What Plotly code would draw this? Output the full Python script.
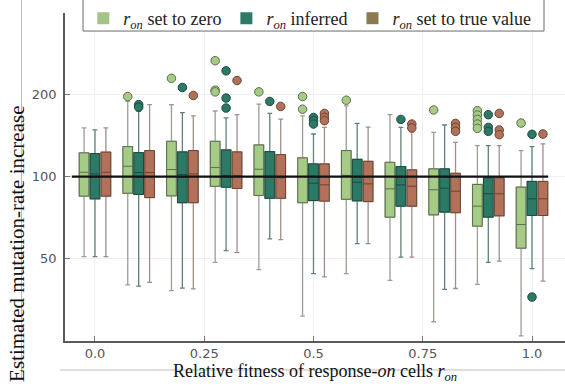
import plotly.graph_objects as go

# ---------------- data ----------------
fitness = [0.0, 0.1, 0.2, 0.3, 0.4, 0.5, 0.6, 0.7, 0.8, 0.9, 1.0]
x_tick_vals = [0.0, 0.25, 0.5, 0.75, 1.0]
x_tick_text = ["0.0", "0.25", "0.5", "0.75", "1.0"]
y_tick_vals = [50, 100, 200]
y_tick_text = ["50", "100", "200"]
reference_value = 100

series_names = [
    "<i>r</i><sub><i>on</i></sub> set to zero",
    "<i>r</i><sub><i>on</i></sub> inferred",
    "<i>r</i><sub><i>on</i></sub> set to true value",
]

# r_on set to zero
zero_lo = [50.7, 39.9, 38.0, 48.3, 45.4, 30.6, 43.9, 41.5, 29.2, 40.1, 25.9]
zero_q1 = [84.7, 86.8, 84.9, 92.1, 85.2, 80.1, 82.5, 70.9, 72.3, 65.7, 54.5]
zero_med = [103.7, 109.1, 106.1, 107.9, 106.4, 100.0, 101.0, 90.1, 89.4, 77.8, 66.6]
zero_q3 = [122.2, 128.9, 134.8, 134.8, 130.7, 117.1, 124.6, 112.8, 106.7, 93.5, 91.4]
zero_hi = [151.0, 189.0, 183.8, 174.3, 184.9, 167.1, 182.0, 168.9, 145.4, 130.0, 124.6]
zero_out = [[], [197], [230], [267, 208, 205], [205], [197, 177], [191], [],
            [175.8], [174.7, 168.4, 162.3, 156.1, 150.5], [157.4]]

# r_on inferred
inf_lo = [50.7, 39.5, 38.8, 53.4, 59.0, 43.9, 56.6, 50.5, 38.4, 48.3, 45.8]
inf_q1 = [82.8, 85.9, 80.1, 91.4, 83.2, 81.6, 81.4, 77.8, 74.0, 70.9, 71.9]
inf_med = [102.3, 103.4, 101.7, 100.8, 100.0, 94.5, 95.3, 93.2, 90.6, 86.4, 82.8]
inf_q3 = [121.5, 122.5, 123.2, 125.3, 123.5, 111.3, 115.7, 108.8, 106.7, 98.9, 95.9]
inf_hi = [148.4, 174.0, 171.8, 164.3, 170.8, 143.4, 156.9, 151.7, 154.8, 130.0, 128.9]
inf_out = [[], [184, 180], [212.8], [245, 194.5, 178.7], [189], [165, 160.6, 156.1],
           [], [162.3], [], [168.9, 151.7, 146.7], [143, 36]]

# r_on set to true value
true_lo = [50.7, 40.8, 38.6, 52.5, 58.6, 42.7, 56.6, 50.5, 38.7, 48.8, 41.2]
true_q1 = [84.7, 83.7, 80.1, 90.4, 83.2, 81.2, 80.9, 77.8, 73.6, 71.7, 71.9]
true_med = [103.7, 103.4, 102.3, 100.8, 99.0, 93.2, 94.0, 92.1, 88.3, 86.4, 82.8]
true_q3 = [123.0, 124.6, 124.6, 123.2, 120.4, 111.3, 113.8, 105.8, 102.8, 98.9, 95.9]
true_hi = [151.0, 184.0, 167.1, 168.9, 162.8, 151.7, 152.0, 146.0, 133.6, 130.0, 131.8]
true_out = [[], [], [198.8], [225.7], [181.2], [170.8, 165.1, 160.6], [], [156.1, 151.0],
            [156.9, 151.7, 146.7], [170.8, 148.4, 142.6], [143.4]]

# ---------------- styles ----------------
fills = ["#a5cc84", "#2c7a66", "#b2725a"]
outlines = ["#5d6b50", "#1d4a3f", "#6a4436"]
whisker_cols = ["#9a9f92", "#5f8178", "#a08f87"]
legend_cols = ["#a3c486", "#2e7a66", "#8a7a4f"]
offsets = [-0.025, 0.0, 0.025]
box_w = 0.022

stats = [
    (zero_lo, zero_q1, zero_med, zero_q3, zero_hi, zero_out),
    (inf_lo, inf_q1, inf_med, inf_q3, inf_hi, inf_out),
    (true_lo, true_q1, true_med, true_q3, true_hi, true_out),
]

fig = go.Figure()

for i, (lo, q1, med, q3, hi, out) in enumerate(stats):
    xs = [f + offsets[i] for f in fitness]
    # whiskers (lighter)
    fig.add_trace(go.Box(
        x=xs, q1=q1, median=med, q3=q3, lowerfence=lo, upperfence=hi,
        width=box_w, whiskerwidth=0.5, fillcolor=fills[i],
        line=dict(color=whisker_cols[i], width=1.3),
        boxpoints=False, showlegend=False, hoverinfo="skip",
    ))
    # box body with darker outline
    fig.add_trace(go.Box(
        x=xs, q1=q1, median=med, q3=q3, lowerfence=q1, upperfence=q3,
        width=box_w, whiskerwidth=0, fillcolor=fills[i],
        line=dict(color=outlines[i], width=1),
        boxpoints=False, showlegend=False, hoverinfo="skip",
    ))

# reference line
fig.add_trace(go.Scatter(
    x=[-0.053, 1.037], y=[reference_value, reference_value], mode="lines",
    line=dict(color="#111111", width=2.2), showlegend=False, hoverinfo="skip",
))

# outliers
for i, (lo, q1, med, q3, hi, out) in enumerate(stats):
    ox, oy = [], []
    for f, vals in zip(fitness, out):
        for v in vals:
            ox.append(f + offsets[i])
            oy.append(v)
    fig.add_trace(go.Scatter(
        x=ox, y=oy, mode="markers",
        marker=dict(size=8.5, color=fills[i], line=dict(color=outlines[i], width=1)),
        showlegend=False, hoverinfo="skip",
    ))

# legend entries
for i in range(3):
    fig.add_trace(go.Scatter(
        x=[None], y=[None], mode="markers", name=series_names[i],
        marker=dict(symbol="square", size=12, color=legend_cols[i],
                    line=dict(color=legend_cols[i], width=0)),
    ))

serif = "Liberation Serif"

fig.update_layout(
    width=565, height=387,
    margin=dict(l=65, r=0, t=13, b=46, autoexpand=False),
    paper_bgcolor="white", plot_bgcolor="white",
    boxmode="overlay",
    showlegend=True,
    legend=dict(
        orientation="h", x=0.0366, xanchor="left",
        yref="container", y=1.0, yanchor="top",
        bgcolor="rgba(0,0,0,0)", borderwidth=0,
        font=dict(family=serif, size=18, color="#222222"),
        itemwidth=30, tracegroupgap=0,
    ),
    xaxis=dict(
        range=[-0.0686, 1.0755], tickmode="array",
        tickvals=x_tick_vals, ticktext=x_tick_text,
        ticks="inside", ticklen=5, tickcolor="#777777",
        showline=True, linecolor="#5a5a5a", linewidth=1.5,
        showgrid=True, gridcolor="#efefef", gridwidth=1, zeroline=False,
        tickfont=dict(family="DejaVu Sans", size=13, color="#555555"),
        automargin=False,
        title=dict(
            text="Relative fitness of response-<i>on</i> cells <i>r</i><sub><i>on</i></sub>",
            font=dict(family=serif, size=18, color="#111111"), standoff=4,
        ),
    ),
    yaxis=dict(
        type="log", range=[1.3945, 2.6021], tickmode="array",
        tickvals=y_tick_vals, ticktext=y_tick_text,
        ticks="inside", ticklen=5, tickcolor="#777777",
        showline=True, linecolor="#5a5a5a", linewidth=1.5,
        showgrid=True, gridcolor="#efefef", gridwidth=1, zeroline=False,
        tickfont=dict(family="DejaVu Sans", size=13, color="#555555"),
        ticklabelstandoff=4, automargin=False,
    ),
    annotations=[dict(
        text="Estimated mutation-rate increase", textangle=-90,
        xref="paper", yref="paper", x=-0.096, y=0.296,
        xanchor="center", yanchor="middle", showarrow=False,
        font=dict(family=serif, size=21, color="#111111"),
    )],
    shapes=[
        # legend frame
        dict(type="rect", xref="paper", yref="paper", x0=0.036, x1=0.958,
             y0=0.945, y1=1.043, fillcolor="white",
             line=dict(color="#6a6a6a", width=1), layer="above"),
        dict(type="line", xref="paper", yref="paper", x0=-0.087, x1=-0.087,
             y0=1.04, y1=-0.119, line=dict(color="#bdbdbd", width=1), layer="below"),
        dict(type="line", xref="paper", yref="paper", x0=-0.01, x1=1.0,
             y0=-0.0884, y1=-0.0884, line=dict(color="#bdbdbd", width=1), layer="below"),
    ],
)

fig.write_html("out.html")
